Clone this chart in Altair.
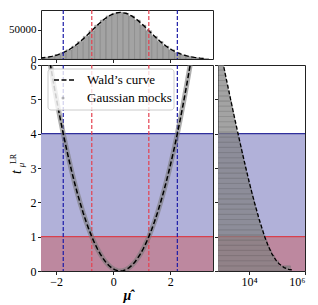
import altair as alt
import pandas as pd

FONT = "Liberation Serif"

# ---- data ----
# histogram of mu-hat (top panel)
mu_centers = [-2.55, -2.35, -2.15, -1.95, -1.75, -1.55, -1.35, -1.15, -0.95, -0.75,
              -0.55, -0.35, -0.15, 0.05, 0.25, 0.45, 0.65, 0.85, 1.05, 1.25,
              1.45, 1.65, 1.85, 2.05, 2.25, 2.45, 2.65, 2.85, 3.05, 3.25]
mu_counts = [1583, 2717, 4479, 7095, 10798, 15790, 22184, 29945, 38837, 48394,
             57938, 66645, 73654, 78208, 79788, 78208, 73654, 66645, 57938, 48394,
             38837, 29945, 22184, 15790, 10798, 7095, 4479, 2717, 1583, 886]
mu_bin_width = 0.2

# Wald's curve / Gaussian mocks (main panel)
mu_grid = [-2.25, -2.15, -2.05, -1.95, -1.85, -1.75, -1.65, -1.55, -1.45, -1.35,
           -1.25, -1.15, -1.05, -0.95, -0.85, -0.75, -0.65, -0.55, -0.45, -0.35,
           -0.25, -0.15, -0.05, 0.05, 0.15, 0.25, 0.35, 0.45, 0.55, 0.65,
           0.75, 0.85, 0.95, 1.05, 1.15, 1.25, 1.35, 1.45, 1.55, 1.65,
           1.75, 1.85, 1.95, 2.05, 2.15, 2.25, 2.35, 2.45, 2.55, 2.65, 2.75]
t_wald = [6.25, 5.76, 5.29, 4.84, 4.41, 4.00, 3.61, 3.24, 2.89, 2.56,
          2.25, 1.96, 1.69, 1.44, 1.21, 1.00, 0.81, 0.64, 0.49, 0.36,
          0.25, 0.16, 0.09, 0.04, 0.01, 0.00, 0.01, 0.04, 0.09, 0.16,
          0.25, 0.36, 0.49, 0.64, 0.81, 1.00, 1.21, 1.44, 1.69, 1.96,
          2.25, 2.56, 2.89, 3.24, 3.61, 4.00, 4.41, 4.84, 5.29, 5.76, 6.25]

# histogram of t (right panel)
t_bin_width = 0.15
t_bin_lo = [round(t_bin_width * i, 2) for i in range(40)]
t_counts = [301400, 114800, 81500, 63700, 52100, 43700, 37300, 32100, 28000, 24600,
            21700, 19200, 17100, 15300, 13700, 12300, 11000, 9900, 9000, 8100,
            7300, 6600, 6000, 5500, 5000, 4500, 4100, 3700, 3400, 3100,
            2800, 2600, 2400, 2200, 2000, 1800, 1650, 1500, 1390, 1270]
t_curve = [0.03, 0.05, 0.1, 0.2, 0.3, 0.5, 0.75, 1, 1.5, 2, 2.5, 3, 3.5, 4, 4.5, 5, 5.5, 6]
n_curve = [340000, 261000, 180000, 121000, 94000, 65900, 47500, 36300, 23100, 15600,
           10800, 7700, 5560, 4050, 2970, 2200, 1630, 1220]

# confidence levels
band_lo = [0, 1]
band_hi = [1, 4]
band_colors = ["#bd889f", "#b1b1d9"]
level_t = [1, 4]
level_colors = ["#d8404e", "#2f2f9c"]
interval_mu = [-0.75, 1.25, -1.75, 2.25]
interval_colors = ["#e5404f", "#e5404f", "#1c1ca8", "#1c1ca8"]

# ---- tables ----
df_mu = pd.DataFrame({"c": mu_centers, "n": mu_counts})
df_mu["lo"] = df_mu["c"] - mu_bin_width / 2
df_mu["hi"] = df_mu["c"] + mu_bin_width / 2
df_wald = pd.DataFrame({"mu": mu_grid, "t": t_wald})
df_t = pd.DataFrame({"lo": t_bin_lo, "n": t_counts})
df_t["hi"] = df_t["lo"] + t_bin_width
df_tc = pd.DataFrame({"t": t_curve, "n": n_curve})
df_band = pd.DataFrame({"lo": band_lo, "hi": band_hi, "col": band_colors})
df_level = pd.DataFrame({"t": level_t, "col": level_colors})
df_int = pd.DataFrame({"mu": interval_mu, "col": interval_colors})
one = pd.DataFrame({"a": [0]})

W, H = 172, 206
WR = 87
HT = 49

xs = alt.Scale(domain=[-2.53, 3.5], nice=False, zero=False)
ys = alt.Scale(domain=[0, 6], nice=False, zero=False)
ns = alt.Scale(domain=[0, 83800], nice=False)
ls = alt.Scale(type="log", domain=[780, 1e6], nice=False)

x_main_axis = alt.Axis(values=[-2, 0, 2], title="μ\u0302", titleFontStyle="italic",
                       titleFontSize=14, titleFont=FONT, titlePadding=1)
y_main_axis = alt.Axis(values=[0, 1, 2, 3, 4, 5, 6], title=None)
x_top_axis = alt.Axis(values=[-2, 0, 2], labels=False, title=None)
y_top_axis = alt.Axis(values=[0, 50000], format="d", title=None, labelFontSize=11)
y_right_axis = alt.Axis(values=[0, 1, 2, 3, 4, 5, 6], labels=False, title=None)
x_right_axis = alt.Axis(values=[10000, 1000000], title=None,
                        labelExpr="datum.value == 10000 ? '10⁴' : '10⁶'")

# ---- top panel ----
top_bars = alt.Chart(df_mu).mark_rect(fill="#808080", fillOpacity=0.72, stroke="#5a5a5a",
                                      strokeWidth=0.4, strokeOpacity=0.6, clip=True).encode(
    x=alt.X("lo:Q", scale=xs, axis=x_top_axis), x2="hi:Q",
    y=alt.Y("n:Q", scale=ns, axis=y_top_axis), y2=alt.datum(0))
top_curve = alt.Chart(df_mu).mark_line(color="black", strokeDash=[5, 2.5], strokeWidth=1.4,
                                       clip=True).encode(
    x=alt.X("c:Q", scale=xs, axis=x_top_axis), y=alt.Y("n:Q", scale=ns, axis=y_top_axis))
top_v = alt.Chart(df_int).mark_rule(strokeDash=[4, 2], strokeWidth=1.2).encode(
    x=alt.X("mu:Q", scale=xs, axis=x_top_axis), color=alt.Color("col:N", scale=None))
top = alt.layer(top_bars, top_curve, top_v).properties(width=W, height=HT)

# ---- main panel ----
bands = alt.Chart(df_band).mark_rect().encode(
    y=alt.Y("lo:Q", scale=ys, axis=y_main_axis), y2="hi:Q",
    x=alt.value(0), x2=alt.value(W), fill=alt.Fill("col:N", scale=None))
levels = alt.Chart(df_level).mark_rule(strokeWidth=1.2).encode(
    y=alt.Y("t:Q", scale=ys, axis=y_main_axis), color=alt.Color("col:N", scale=None))
vlines = alt.Chart(df_int).mark_rule(strokeDash=[4, 2], strokeWidth=1.2).encode(
    x=alt.X("mu:Q", scale=xs, axis=x_main_axis), color=alt.Color("col:N", scale=None))
mocks = alt.Chart(df_wald).mark_line(color="#7a7a7a", strokeWidth=5, opacity=0.6, clip=True).encode(
    x=alt.X("mu:Q", scale=xs, axis=x_main_axis), y=alt.Y("t:Q", scale=ys, axis=y_main_axis))
wald = alt.Chart(df_wald).mark_line(color="black", strokeDash=[5, 2.5], strokeWidth=1.5, clip=True).encode(
    x=alt.X("mu:Q", scale=xs, axis=x_main_axis), y=alt.Y("t:Q", scale=ys, axis=y_main_axis))

leg_box = alt.Chart(one).mark_rect(fill="white", fillOpacity=0.8, stroke="#cccccc",
                                   strokeWidth=1, cornerRadius=3).encode(
    x=alt.value(7), x2=alt.value(133), y=alt.value(4), y2=alt.value(45))
leg_line = alt.Chart(one).mark_rule(color="black", strokeDash=[5, 2.5], strokeWidth=1.5).encode(
    x=alt.value(13), x2=alt.value(33), y=alt.value(15))
leg_dot = alt.Chart(one).mark_circle(color="#8a8a8a", opacity=0.6, size=10).encode(
    x=alt.value(22), y=alt.value(33))
leg_t1 = alt.Chart(one).mark_text(align="left", baseline="middle", font=FONT, fontSize=13,
                                  color="black").encode(
    x=alt.value(46), y=alt.value(15), text=alt.value("Wald’s curve"))
leg_t2 = alt.Chart(one).mark_text(align="left", baseline="middle", font=FONT, fontSize=13,
                                  color="black").encode(
    x=alt.value(46), y=alt.value(33), text=alt.value("Gaussian mocks"))

yt_t = alt.Chart(one).mark_text(angle=270, align="center", baseline="middle", font=FONT,
                                fontSize=14, fontStyle="italic", color="black").encode(
    x=alt.value(-24), y=alt.value(107), text=alt.value("t"))
yt_lr = alt.Chart(one).mark_text(angle=270, align="center", baseline="middle", font=FONT,
                                 fontSize=8, color="black").encode(
    x=alt.value(-27.5), y=alt.value(94), text=alt.value("LR"))
yt_mu = alt.Chart(one).mark_text(angle=270, align="center", baseline="middle", font=FONT,
                                 fontSize=9, fontStyle="italic", color="black").encode(
    x=alt.value(-20), y=alt.value(100), text=alt.value("μ"))

main = alt.layer(bands, levels, vlines, mocks, wald, leg_box, leg_line, leg_dot,
                 leg_t1, leg_t2, yt_t, yt_lr, yt_mu).properties(width=W, height=H)

# ---- right panel ----
r_bands = alt.Chart(df_band).mark_rect().encode(
    y=alt.Y("lo:Q", scale=ys, axis=y_right_axis), y2="hi:Q",
    x=alt.value(0), x2=alt.value(WR), fill=alt.Fill("col:N", scale=None))
r_levels = alt.Chart(df_level).mark_rule(strokeWidth=1.2).encode(
    y=alt.Y("t:Q", scale=ys, axis=y_right_axis), color=alt.Color("col:N", scale=None))
r_bars = alt.Chart(df_t).mark_rect(fill="#808080", fillOpacity=0.72, stroke="#5a5a5a",
                                   strokeWidth=0.4, strokeOpacity=0.6, clip=True).encode(
    y=alt.Y("lo:Q", scale=ys, axis=y_right_axis), y2="hi:Q",
    x=alt.X("n:Q", scale=ls, axis=x_right_axis), x2=alt.value(0))
r_curve = alt.Chart(df_tc).mark_line(color="black", strokeDash=[4, 2], strokeWidth=1.3,
                                     clip=True).encode(
    y=alt.Y("t:Q", scale=ys, axis=y_right_axis),
    x=alt.X("n:Q", scale=ls, axis=x_right_axis), order="t:Q")
right = alt.layer(r_bands, r_levels, r_bars, r_curve).properties(width=WR, height=H)

bottom = alt.hconcat(main, right, spacing=5, bounds="flush")
chart = alt.vconcat(top, bottom, spacing=6, bounds="flush").properties(
    padding={"left": 0, "top": 0, "right": 2, "bottom": 0}
).configure_view(stroke="#222222", strokeWidth=1).configure_axis(
    domain=False, grid=False, ticks=True, tickColor="#222222", tickSize=3.5, tickWidth=1,
    labelFont=FONT, labelFontSize=12, labelColor="black", labelPadding=1.5,
    titleFont=FONT, titleColor="black"
)

chart.save("out.html", embed_options={"renderer": "svg", "actions": False})
